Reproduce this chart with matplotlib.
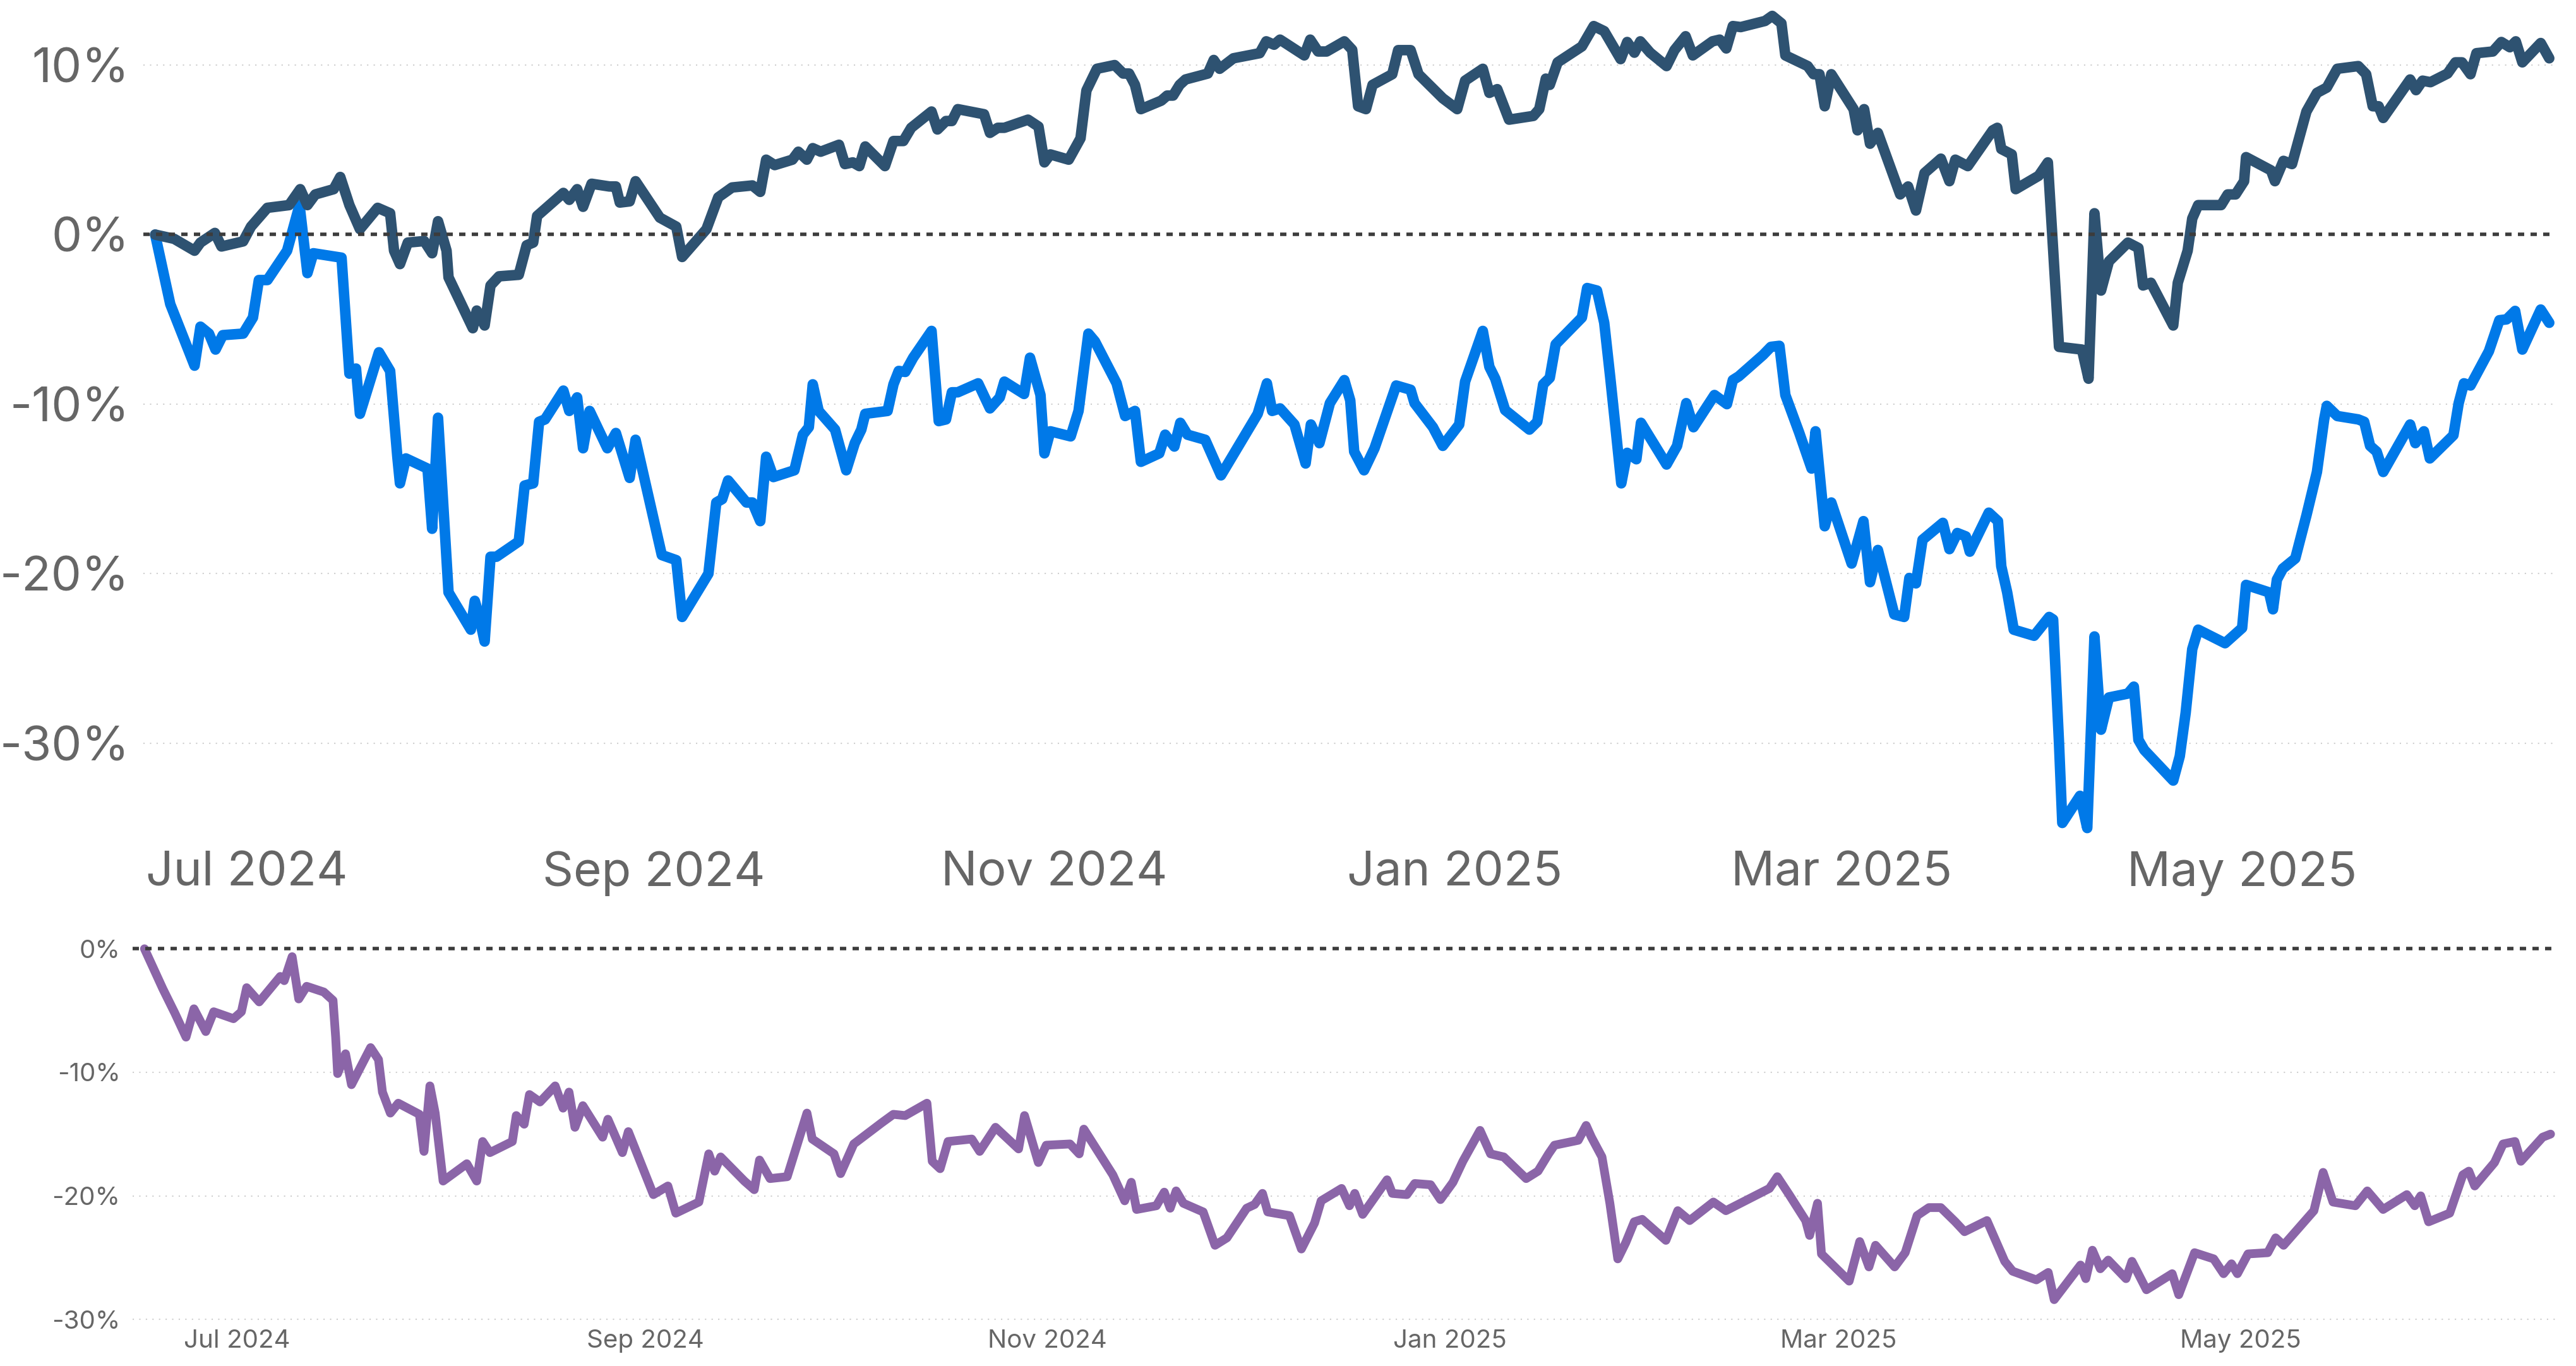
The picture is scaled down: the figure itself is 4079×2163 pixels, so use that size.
import pandas as pd
import matplotlib
matplotlib.use('Agg')
import matplotlib.pyplot as plt
import matplotlib.dates as mdates

plt.rcParams['font.family'] = ['Inter', 'DejaVu Sans']

start = pd.Timestamp('2024-06-17')
end = pd.Timestamp('2025-06-17')

# days since start / cumulative return in %
navy_days = [0, 2.9, 6.0, 6.9, 9.1, 10.1, 13.4, 14.6, 17.1, 20.4, 22.1, 23.2, 24.4, 27.2, 28.2, 29.6,
             31.2, 33.9, 35.8, 36.4, 37.3, 38.5, 41.0, 42.2, 43.1, 44.4, 44.7, 48.4, 49.0, 50.2, 51.1,
             52.4, 55.4, 56.6, 57.6, 58.2, 62.2, 63.1, 64.3, 65.2, 66.5, 69.2, 70.2, 70.8, 72.3, 73.2,
             76.9, 79.4, 80.3, 84.0, 85.8, 87.9, 91.0, 92.2, 93.1, 94.4, 97.1, 98.0, 99.3, 100.2, 101.4,
             104.2, 105.1, 106.3, 107.3, 108.2, 111.2, 112.5, 114.0, 115.2, 118.3, 119.2, 120.5, 121.4,
             122.3, 126.3, 127.2, 128.4, 129.4, 133.0, 134.6, 135.5, 136.4, 139.2, 141.0, 141.9, 143.5,
             146.2, 147.5, 148.4, 149.3, 150.2, 153.3, 154.2, 155.1, 156.1, 157.0, 160.4, 161.3, 162.2,
             164.3, 168.3, 169.3, 170.5, 171.4, 175.1, 176.0, 177.2, 178.5, 181.2, 182.4, 183.3, 184.5,
             185.5, 188.5, 189.4, 191.3, 192.5, 196.2, 198.4, 199.6, 202.3, 203.3, 204.5, 206.3, 210.0,
             210.9, 211.9, 212.5, 213.7, 217.4, 219.2, 220.8, 223.3, 224.3, 225.4, 226.3, 227.8, 230.3,
             231.5, 233.2, 234.3, 237.3, 238.4, 239.4, 240.4, 241.6, 245.3, 246.4, 247.8, 248.4, 251.8,
             252.7, 253.6, 254.4, 255.4, 258.8, 259.4, 260.4, 261.3, 262.5, 265.9, 267.1, 268.3, 269.6,
             272.1, 273.4, 274.3, 276.2, 280.0, 280.7, 281.3, 282.9, 283.5, 287.0, 288.4, 290.1, 293.6,
             294.6, 295.5, 296.5, 297.7, 300.6, 302.2, 302.9, 304.1, 307.5, 308.2, 309.7, 310.4, 311.3,
             314.8, 315.8, 317.0, 318.3, 318.6, 322.4, 323.0, 324.3, 325.6, 327.8, 329.4, 330.9, 332.5,
             335.7, 336.9, 337.9, 338.8, 339.5, 343.6, 344.5, 345.5, 346.7, 349.3, 350.5, 351.5, 352.8,
             353.7, 356.2, 357.5, 358.8, 359.7, 360.7, 363.5, 364.8]
navy_vals = [0, -0.25, -0.95, -0.47, 0.1, -0.7, -0.4, 0.47, 1.58, 1.74, 2.68, 1.74, 2.37, 2.68, 3.4, 1.74,
             0.32, 1.58, 1.26, -0.95, -1.74, -0.47, -0.38, -1.1, 0.79, -0.95, -2.52, -5.52, -4.48, -5.36, -3.0,
             -2.46, -2.37, -0.63, -0.47, 1.1, 2.46, 2.05, 2.68, 1.64, 3.0, 2.84, 2.84, 1.89, 1.96, 3.15,
             1.0, 0.47, -1.32, 0.32, 2.2, 2.78, 2.9, 2.52, 4.42, 4.1, 4.42, 4.89, 4.42, 5.1, 4.89,
             5.3, 4.16, 4.26, 4.04, 5.2, 4.04, 5.52, 5.52, 6.3, 7.26, 6.2, 6.7, 6.7,
             7.4, 7.1, 6.0, 6.3, 6.3, 6.78, 6.37, 4.26, 4.73, 4.42, 5.68, 8.5, 9.78,
             10.0, 9.5, 9.5, 8.83, 7.4, 7.9, 8.2, 8.2, 8.83, 9.15, 9.5, 10.3, 9.78,
             10.4, 10.7, 11.4, 11.2, 11.5, 10.57, 11.5, 10.8, 10.8, 11.4, 10.9, 7.57, 7.4,
             8.83, 9.46, 10.88, 10.88, 9.46, 8.04, 7.4, 9.08, 9.78, 8.36, 8.58, 6.78, 7.0,
             7.4, 9.2, 8.83, 10.16, 11.1, 12.3, 12.0, 10.35, 11.36, 10.73, 11.4, 10.73, 9.94,
             10.88, 11.7, 10.57, 11.4, 11.5, 10.98, 12.3, 12.24, 12.6, 12.9, 12.46, 10.57, 9.94,
             9.46, 9.46, 7.57, 9.46, 7.4, 6.15, 7.4, 5.36, 6.0, 2.37, 2.84, 1.42, 3.63,
             4.48, 3.15, 4.42, 4.04, 6.15, 6.3, 5.05, 4.73, 2.68, 3.47, 4.26, -6.62, -6.78,
             -8.5, 1.26, -3.3, -1.58, -0.47, -0.79, -3.0, -2.84, -5.36, -2.84, -0.95, 0.95, 1.74,
             1.74, 2.37, 2.37, 3.15, 4.57, 3.79, 3.15, 4.35, 4.16, 7.26, 8.36, 8.67, 9.78,
             9.94, 9.46, 7.57, 7.57, 6.88, 9.15, 8.52, 9.08, 8.99, 9.5, 10.16, 10.16, 9.46,
             10.7, 10.8, 11.36, 11.05, 11.4, 10.16, 11.3, 10.4]

blue_days = [0, 2.3, 6.0, 6.9, 8.2, 9.2, 10.3, 13.4, 14.9, 15.8, 17.1, 20.1, 22.0, 23.2, 24.1, 28.4,
             29.6, 30.6, 31.2, 34.1, 35.8, 36.9, 37.3, 38.2, 41.5, 42.2, 43.1, 44.7, 48.1, 48.7, 49.3,
             50.2, 51.1, 52.0, 55.4, 56.3, 57.6, 58.5, 59.4, 62.2, 63.1, 64.3, 65.2, 66.2, 68.9, 70.2,
             72.3, 73.2, 77.2, 79.4, 80.3, 84.3, 85.5, 86.4, 87.3, 90.1, 91.0, 92.2, 93.1, 94.2, 97.4,
             98.7, 99.6, 100.2, 101.1, 103.6, 105.3, 106.6, 107.6, 108.2, 111.6, 112.5, 113.3, 114.3,
             115.5, 118.3, 119.4, 120.5, 121.4, 122.3, 125.4, 127.2, 128.7, 129.4, 132.4, 133.3, 134.9,
             135.5, 136.4, 139.5, 140.7, 142.2, 143.2, 146.5, 147.8, 149.3, 150.2, 153.0, 153.9, 155.3,
             156.2, 157.3, 160.0, 162.4, 168.0, 169.4, 170.2, 171.4, 173.6, 175.3, 176.1, 177.4, 179.0,
             181.2, 182.1, 182.7, 184.2, 185.8, 189.1, 191.3, 191.9, 194.7, 196.2, 198.7, 199.6, 202.3,
             203.3, 204.2, 205.7, 209.4, 210.6, 211.5, 212.5, 213.4, 217.4, 218.2, 219.7, 220.8, 221.7,
             222.6, 223.4, 224.3, 225.7, 226.4, 230.3, 231.9, 233.3, 234.4, 237.6, 239.5, 240.4, 241.3,
             245.0, 246.2, 247.5, 248.4, 250.5, 252.4, 253.0, 254.4, 255.4, 258.5, 260.3, 261.3, 262.5,
             265.0, 266.5, 267.3, 268.3, 269.3, 272.4, 273.4, 274.6, 275.9, 276.5, 279.4, 280.8, 281.3,
             282.2, 283.2, 286.3, 288.6, 289.2, 290.1, 290.6, 293.3, 294.4, 295.5, 296.5, 297.7, 300.6,
             301.5, 302.2, 303.1, 307.5, 308.5, 309.4, 310.4, 311.3, 315.4, 318.0, 318.6, 322.1, 322.7,
             323.3, 324.2, 326.1, 327.8, 329.4, 330.5, 330.9, 332.5, 335.7, 336.6, 337.5, 338.5, 339.5,
             343.6, 344.4, 345.7, 346.6, 350.2, 351.0, 351.8, 352.8, 355.6, 357.2, 358.3, 359.6, 360.7,
             363.5, 364.8]
blue_vals = [0, -4.1, -7.73, -5.43, -5.84, -6.78, -5.93, -5.84, -4.89, -2.68, -2.68, -0.95, 1.74, -2.27, -1.1, -1.36,
             -8.2, -7.9, -10.57, -6.94, -8.04, -13.1, -14.67, -13.2, -13.8, -17.35, -10.8, -21.1, -23.3, -21.6, -22.4,
             -24.0, -19.0, -19.0, -18.1, -14.8, -14.67, -11.04, -10.9, -9.2, -10.4, -9.6, -12.6, -10.4, -12.6, -11.7,
             -14.35, -12.1, -18.9, -19.2, -22.55, -20.0, -15.8, -15.6, -14.5, -15.8, -15.8, -16.9, -13.1, -14.3, -13.9,
             -11.8, -11.36, -8.83, -10.4, -11.5, -13.9, -12.3, -11.5, -10.57, -10.4, -8.83, -8.04, -8.1,
             -7.26, -5.68, -11.0, -10.9, -9.3, -9.3, -8.77, -10.25, -9.6, -8.67, -9.4, -7.26, -9.46,
             -12.9, -11.6, -11.9, -10.4, -5.84, -6.3, -8.77, -10.7, -10.4, -13.4, -12.9, -11.8, -12.5,
             -11.1, -11.8, -12.1, -14.2, -10.57, -8.77, -10.4, -10.25, -11.2, -13.5, -11.2, -12.3, -9.94,
             -8.58, -9.78, -12.8, -13.9, -12.6, -8.9, -9.15, -9.94, -11.36, -12.46, -11.2, -8.67, -5.68,
             -7.8, -8.5, -10.35, -11.5, -11.04, -8.83, -8.45, -6.47, -4.89, -3.15, -3.3, -5.2, -8.36,
             -11.67, -14.67, -12.87, -13.25, -11.1, -13.56, -12.46, -9.94, -11.36, -9.46, -10.0, -8.58, -8.36,
             -7.1, -6.62, -6.56, -9.46, -11.67, -13.8, -11.6, -17.2, -15.8, -19.4, -16.9, -20.5, -18.6,
             -22.4, -22.55, -20.25, -20.57, -18.0, -17.0, -18.55, -17.6, -17.8, -18.7, -16.4, -16.9, -19.56,
             -21.1, -23.3, -23.66, -22.55, -22.7, -30.0, -34.7, -33.1, -35.0, -23.7, -29.2, -27.3, -27.07,
             -26.66, -29.8, -30.4, -32.2, -30.76, -28.2, -24.45, -23.3, -24.1, -23.2, -20.66, -21.1, -22.1,
             -20.35, -19.7, -19.1, -16.56, -14.0, -10.9, -10.1, -10.7, -10.9, -11.04, -12.46, -12.8, -14.0,
             -11.2, -12.3, -11.6, -13.2, -11.83, -9.94, -8.77, -8.9, -6.88, -5.05, -5.0, -4.5, -6.78,
             -4.42, -5.2]

purple_days = [0, 2.8, 4.6, 6.3, 7.5, 9.3, 10.5, 13.5, 14.7, 15.5, 17.4, 20.6, 21.2, 22.4, 23.4, 24.6,
               27.2, 28.6, 29.0, 29.3, 30.5, 31.4, 34.3, 35.5, 36.1, 37.3, 38.5, 41.7, 42.4, 43.3, 44.1,
               45.3, 48.9, 50.4, 51.3, 52.4, 55.8, 56.4, 57.6, 58.4, 60.0, 62.3, 63.5, 64.4, 65.3, 66.5,
               69.5, 70.3, 72.5, 73.4, 77.2, 79.4, 80.6, 84.1, 85.6, 86.5, 87.4, 91.0, 92.5, 93.3, 94.9,
               97.5, 100.5, 101.3, 104.6, 105.6, 107.6, 111.8, 113.6, 115.4, 118.7, 119.5, 120.7, 121.9,
               125.5, 126.7, 129.1, 132.6, 133.5, 135.6, 136.8, 140.4, 141.8, 142.5, 146.9, 148.7, 149.7,
               150.5, 153.5, 154.7, 155.6, 156.5, 157.6, 160.6, 162.4, 164.2, 167.2, 168.4, 169.6, 170.4,
               173.7, 175.5, 177.5, 178.5, 181.6, 182.8, 183.6, 184.8, 188.5, 189.3, 191.5, 192.7, 195.1,
               196.6, 198.5, 200.0, 202.6, 204.2, 206.2, 209.6, 211.4, 213.0, 213.9, 217.5, 218.7, 219.5,
               221.1, 222.3, 223.5, 224.7, 226.0, 227.2, 230.8, 232.6, 234.4, 238.0, 239.9, 246.5, 247.7,
               249.5, 252.0, 252.6, 253.8, 254.4, 258.6, 260.2, 261.6, 262.6, 265.5, 267.1, 268.9, 270.7,
               272.5, 274.7, 276.1, 279.5, 282.2, 283.4, 287.0, 288.8, 289.7, 293.7, 294.5, 295.5, 296.7,
               297.9, 300.6, 301.5, 303.7, 307.6, 308.6, 309.8, 311.0, 313.9, 315.4, 316.6, 317.5, 319.1,
               322.1, 323.3, 324.5, 329.1, 330.5, 332.0, 335.4, 337.2, 339.6, 343.2, 344.4, 345.3, 346.5,
               349.7, 351.7, 352.6, 353.5, 356.5, 357.8, 359.6, 360.5, 363.8, 365.0]
purple_vals = [0, -3.26, -5.2, -7.15, -4.86, -6.7, -5.1, -5.66, -5.1, -3.15, -4.3, -2.24, -2.58, -0.64, -4.06, -3.04,
               -3.5, -4.18, -7.15, -10.1, -8.5, -11.0, -8.0, -8.97, -11.6, -13.3, -12.5, -13.4, -16.4, -11.1, -13.3,
               -18.8, -17.4, -18.8, -15.6, -16.5, -15.6, -13.5, -14.2, -11.8, -12.4, -11.1, -12.9, -11.6, -14.45, -12.7,
               -15.25, -13.8, -16.5, -14.8, -19.9, -19.2, -21.4, -20.5, -16.6, -18.0, -16.85, -18.8, -19.5, -17.1, -18.6,
               -18.45, -13.3, -15.4, -16.6, -18.2, -15.8, -14.1, -13.4, -13.5, -12.5, -17.2, -17.8, -15.6,
               -15.4, -16.4, -14.45, -16.2, -13.5, -17.3, -15.9, -15.8, -16.6, -14.6, -18.3, -20.4, -18.9,
               -21.1, -20.8, -19.7, -21.0, -19.6, -20.6, -21.3, -24.0, -23.4, -21.0, -20.7, -19.8, -21.3,
               -21.6, -24.3, -22.2, -20.4, -19.4, -20.8, -19.8, -21.5, -18.7, -19.8, -19.9, -19.0, -19.1,
               -20.3, -18.9, -17.2, -14.7, -16.6, -16.85, -18.6, -18.0, -16.6, -15.9, -15.5, -14.3, -15.25,
               -16.85, -20.6, -25.1, -23.8, -22.1, -21.9, -23.6, -21.2, -22.0, -20.5, -21.2, -19.4, -18.45,
               -19.9, -22.0, -23.2, -20.6, -24.7, -26.9, -23.7, -25.75, -24.0, -25.75, -24.6, -21.6, -20.95,
               -20.95, -22.1, -22.9, -22.0, -25.3, -26.1, -26.8, -26.2, -28.4, -25.6, -26.7, -24.4, -25.9,
               -25.2, -26.7, -25.3, -27.6, -26.3, -28.0, -26.3, -24.6, -25.1, -26.3, -25.5, -26.3, -24.7,
               -24.6, -23.4, -24.0, -21.2, -18.1, -20.5, -20.8, -19.6, -21.1, -19.9, -20.8, -20.0, -22.1,
               -21.4, -18.3, -18.0, -19.2, -17.3, -15.8, -15.6, -17.2, -15.25, -15.0]

top_ticks = [10, 0, -10, -20, -30]
bottom_ticks = [0, -10, -20, -30]


def to_dates(days):
    return start + pd.to_timedelta(days, unit='D')


W, H = 4080, 2163
fig = plt.figure(figsize=(W / 100, H / 100), dpi=100)
ax1 = fig.add_axes([227 / W, 1 - 1338 / H, (4046 - 227) / W, 1337 / H])
ax2 = fig.add_axes([210 / W, 1 - 2099 / H, (4046 - 210) / W, (2099 - 1473) / H])

line_kw = dict(solid_joinstyle='round', solid_capstyle='round', zorder=3)
ax1.plot(to_dates(blue_days), blue_vals, color='#0079E8', lw=12, **line_kw)
ax1.plot(to_dates(navy_days), navy_vals, color='#2E5271', lw=12, **line_kw)
ax2.plot(to_dates(purple_days), purple_vals, color='#8B65A8', lw=10, **line_kw)

xlim = (start - pd.Timedelta(days=1.8), end + pd.Timedelta(days=0.7))
for ax, ticks, ylim, fs in [(ax1, top_ticks, (-36, 13.8), 55), (ax2, bottom_ticks, (-30.5, 1.5), 29)]:
    ax.set_xlim(*xlim)
    ax.set_ylim(*ylim)
    for t in ticks:
        if t == 0:
            ax.axhline(0, color='#3C3C3C', lw=4, linestyle=(0, (1.8, 1.8)), zorder=4)
        else:
            ax.axhline(t, color='#cfcfcf', lw=1.5, linestyle=(0, (1, 4)), zorder=1)
    ax.set_yticks(ticks)
    ax.set_yticklabels([f'{t}%' for t in ticks])
    ax.xaxis.set_major_locator(mdates.MonthLocator(bymonth=[1, 3, 5, 7, 9, 11]))
    ax.xaxis.set_major_formatter(mdates.DateFormatter('%b %Y'))
    ax.tick_params(length=0, labelsize=fs, labelcolor='#666666')
    for s in ax.spines.values():
        s.set_visible(False)

ax1.tick_params(axis='y', pad=16)
ax1.tick_params(axis='x', pad=7)
ax2.tick_params(axis='y', pad=14)
ax2.tick_params(axis='x', pad=4)

fig.savefig('out.png', dpi=100)
